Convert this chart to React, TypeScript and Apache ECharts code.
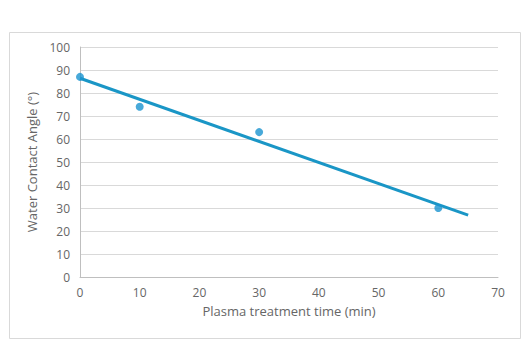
import React, { useEffect, useRef } from "react";
import * as echarts from "echarts";

// Measured contact angle after plasma treatment
const treatmentTimes = [0, 10, 30, 60];
const contactAngles = [87, 74, 63, 30];

// Linear trendline endpoints
const trendTimes = [0, 65];
const trendAngles = [86.4, 26.9];

const xTicks = { min: 0, max: 70, interval: 10 };
const yTicks = { min: 0, max: 100, interval: 10 };

const FONT = "'Open Sans', 'Noto Sans', sans-serif";
const TEXT = "#666666";

export default function App() {
  const ref = useRef<HTMLDivElement>(null);

  useEffect(() => {
    if (!ref.current) return;
    const chart = echarts.init(ref.current, undefined, { renderer: "svg" });
    chart.setOption({
      animation: false,
      backgroundColor: "#ffffff",
      textStyle: { fontFamily: FONT },
      graphic: [
        {
          type: "rect",
          shape: { x: 9.5, y: 32.5, width: 511, height: 306 },
          style: { fill: "none", stroke: "#d9d9d9", lineWidth: 1 },
          silent: true,
        },
      ],
      grid: { left: 80, right: 34, top: 47, bottom: 72 },
      xAxis: {
        type: "value",
        ...xTicks,
        name: "Plasma treatment time (min)",
        nameLocation: "middle",
        nameGap: 27,
        nameTextStyle: { color: TEXT, fontSize: 13, fontFamily: FONT },
        axisLine: { show: true, lineStyle: { color: "#bfbfbf" } },
        axisTick: { show: false },
        axisLabel: { color: TEXT, fontSize: 12, margin: 9, fontFamily: FONT },
        splitLine: { show: false },
      },
      yAxis: {
        type: "value",
        ...yTicks,
        name: "Water Contact Angle (°)",
        nameLocation: "middle",
        nameGap: 38,
        nameTextStyle: { color: TEXT, fontSize: 13, fontFamily: FONT },
        axisLine: { show: true, lineStyle: { color: "#bfbfbf" } },
        axisTick: { show: false },
        axisLabel: { color: TEXT, fontSize: 12, margin: 10, fontFamily: FONT },
        splitLine: { show: true, lineStyle: { color: "#d9d9d9" } },
      },
      series: [
        {
          type: "line",
          data: trendTimes.map((t, i) => [t, trendAngles[i]]),
          showSymbol: false,
          lineStyle: { color: "#1a96c6", width: 3 },
          silent: true,
          z: 2,
        },
        {
          type: "scatter",
          data: treatmentTimes.map((t, i) => [t, contactAngles[i]]),
          symbol: "circle",
          symbolSize: 8,
          itemStyle: { color: "#1a94cf" },
          z: 3,
        },
      ],
    });
    return () => chart.dispose();
  }, []);

  return (
    <div
      ref={ref}
      style={{ position: "absolute", left: 0, top: 0, width: 532, height: 349 }}
    />
  );
}
